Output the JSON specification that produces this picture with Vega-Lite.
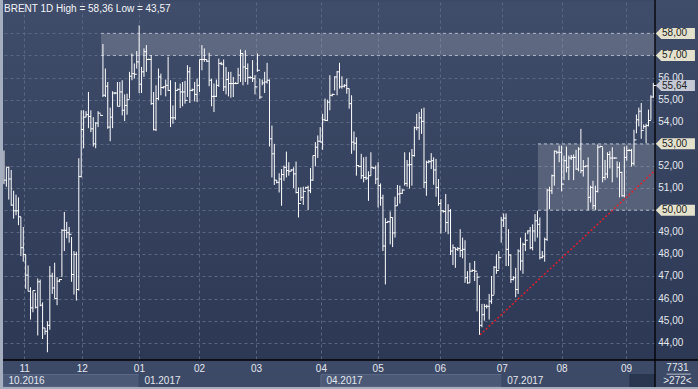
{
"$schema":"https://vega.github.io/schema/vega-lite/v6.json",
"width":652,"height":358,
"autosize":"none",
"padding":{"left":3,"top":2,"right":43,"bottom":29},
"background":"#3d4a67",
"config":{"view":{"stroke":null,"fill":{"gradient":"linear","x1":0,"y1":0,"x2":0,"y2":1,"stops":[{"offset":0,"color":"#404d6a"},{"offset":1,"color":"#2c3854"}]}},
"font":"Liberation Sans"},
"datasets":{
"bars":[
{"i":0,"h":52.70,"l":51.18,"c":51.36},{"i":1,"h":51.94,"l":51.06,"c":51.94},{"i":2,"h":51.97,"l":50.48,"c":51.41},{"i":3,"h":51.82,"l":50.20,"c":50.23},{"i":4,"h":50.88,"l":49.62,"c":49.97},{"i":5,"h":50.70,"l":49.77,"c":49.97},{"i":6,"h":50.58,"l":49.32,"c":49.70},{"i":7,"h":49.70,"l":47.92,"c":48.30},{"i":8,"h":49.24,"l":47.67,"c":48.00},{"i":9,"h":48.00,"l":46.44,"c":47.06},
{"i":10,"h":47.50,"l":46.33,"c":46.33},{"i":11,"h":46.51,"l":45.05,"c":45.58},{"i":12,"h":46.36,"l":45.38,"c":46.36},{"i":13,"h":46.26,"l":45.55,"c":45.61},{"i":14,"h":46.91,"l":44.33,"c":46.76},{"i":15,"h":46.86,"l":45.65,"c":45.70},{"i":16,"h":45.83,"l":44.17,"c":44.67},{"i":17,"h":44.67,"l":44.36,"c":44.52},{"i":18,"h":44.97,"l":43.57,"c":44.79},{"i":19,"h":47.47,"l":44.59,"c":47.02},
{"i":20,"h":47.17,"l":46.21,"c":46.48},{"i":21,"h":47.62,"l":46.00,"c":46.00},{"i":22,"h":46.97,"l":45.70,"c":46.79},{"i":23,"h":46.89,"l":46.74,"c":46.86},{"i":24,"h":49.14,"l":46.97,"c":49.09},{"i":25,"h":49.92,"l":48.15,"c":49.09},{"i":26,"h":49.47,"l":48.73,"c":48.98},{"i":27,"h":49.24,"l":48.53,"c":48.91},{"i":28,"h":48.79,"l":46.76,"c":47.09},{"i":29,"h":48.15,"l":46.18,"c":48.00},
{"i":30,"h":48.12,"l":45.91,"c":46.41},{"i":31,"h":52.35,"l":46.36,"c":51.52},{"i":32,"h":54.52,"l":51.48,"c":53.65},{"i":33,"h":54.52,"l":52.80,"c":54.21},{"i":34,"h":54.48,"l":54.21,"c":54.32},{"i":35,"h":55.35,"l":53.71,"c":54.24},{"i":36,"h":54.52,"l":53.53,"c":53.68},{"i":37,"h":54.21,"l":52.88,"c":53.00},{"i":38,"h":53.98,"l":52.80,"c":53.94},{"i":39,"h":54.48,"l":53.76,"c":54.39},
{"i":40,"h":54.33,"l":54.27,"c":54.29},{"i":41,"h":57.52,"l":55.12,"c":55.20},{"i":42,"h":56.41,"l":55.12,"c":55.61},{"i":43,"h":55.80,"l":53.68,"c":53.76},{"i":44,"h":54.64,"l":53.12,"c":54.21},{"i":45,"h":55.38,"l":53.71,"c":55.30},{"i":46,"h":55.35,"l":55.24,"c":55.30},{"i":47,"h":55.80,"l":54.70,"c":54.70},{"i":48,"h":55.80,"l":54.70,"c":55.35},{"i":49,"h":55.88,"l":54.29,"c":54.52},
{"i":50,"h":55.24,"l":54.03,"c":54.74},{"i":51,"h":55.27,"l":54.32,"c":55.00},{"i":52,"h":56.26,"l":55.05,"c":56.06},{"i":53,"h":57.09,"l":55.88,"c":56.18},{"i":54,"h":56.64,"l":55.95,"c":56.15},{"i":55,"h":57.20,"l":56.41,"c":56.71},{"i":56,"h":58.36,"l":55.30,"c":55.70},{"i":57,"h":56.48,"l":55.30,"c":56.26},{"i":58,"h":57.32,"l":56.03,"c":57.17},{"i":59,"h":57.47,"l":56.26,"c":56.82},
{"i":60,"h":56.86,"l":56.79,"c":56.82},{"i":61,"h":57.02,"l":54.77,"c":54.82},{"i":62,"h":55.35,"l":53.61,"c":53.64},{"i":63,"h":55.65,"l":53.58,"c":55.05},{"i":64,"h":56.41,"l":54.97,"c":56.03},{"i":65,"h":56.18,"l":55.20,"c":55.55},{"i":66,"h":55.61,"l":55.50,"c":55.58},{"i":67,"h":55.91,"l":55.15,"c":55.65},{"i":68,"h":56.94,"l":55.39,"c":55.42},{"i":69,"h":55.88,"l":53.76,"c":54.18},
{"i":70,"h":54.74,"l":53.91,"c":54.18},{"i":71,"h":55.80,"l":54.09,"c":55.42},{"i":72,"h":55.50,"l":55.42,"c":55.47},{"i":73,"h":55.73,"l":54.62,"c":55.35},{"i":74,"h":55.80,"l":54.70,"c":55.35},{"i":75,"h":55.85,"l":54.82,"c":54.97},{"i":76,"h":56.56,"l":55.12,"c":56.26},{"i":77,"h":56.48,"l":54.85,"c":55.42},{"i":78,"h":55.50,"l":55.38,"c":55.45},{"i":79,"h":55.80,"l":54.92,"c":55.24},
{"i":80,"h":55.95,"l":54.89,"c":55.65},{"i":81,"h":56.82,"l":55.35,"c":56.82},{"i":82,"h":57.47,"l":56.33,"c":56.82},{"i":83,"h":57.32,"l":56.71,"c":56.82},{"i":84,"h":56.82,"l":56.71,"c":56.74},{"i":85,"h":57.12,"l":55.61,"c":55.88},{"i":86,"h":55.95,"l":54.70,"c":55.15},{"i":87,"h":55.73,"l":54.44,"c":55.15},{"i":88,"h":55.91,"l":55.12,"c":55.65},{"i":89,"h":56.86,"l":55.58,"c":56.64},
{"i":90,"h":56.71,"l":56.56,"c":56.61},{"i":91,"h":56.82,"l":55.39,"c":55.58},{"i":92,"h":56.48,"l":55.24,"c":55.91},{"i":93,"h":56.26,"l":55.15,"c":55.73},{"i":94,"h":56.26,"l":55.09,"c":55.73},{"i":95,"h":56.03,"l":55.12,"c":55.73},{"i":96,"h":55.80,"l":55.70,"c":55.73},{"i":97,"h":56.44,"l":55.73,"c":56.11},{"i":98,"h":57.27,"l":55.80,"c":57.09},{"i":99,"h":57.09,"l":55.65,"c":56.48},
{"i":100,"h":57.24,"l":55.80,"c":56.41},{"i":101,"h":56.64,"l":55.68,"c":56.00},{"i":102,"h":56.06,"l":55.95,"c":56.00},{"i":103,"h":56.79,"l":55.80,"c":55.95},{"i":104,"h":56.11,"l":55.24,"c":55.58},{"i":105,"h":57.09,"l":56.26,"c":56.33},{"i":106,"h":55.95,"l":55.03,"c":55.12},{"i":107,"h":55.91,"l":55.65,"c":55.76},{"i":108,"h":56.26,"l":55.30,"c":55.80},{"i":109,"h":56.67,"l":55.73,"c":55.88},
{"i":110,"h":55.91,"l":52.88,"c":53.23},{"i":111,"h":53.83,"l":51.48,"c":52.55},{"i":112,"h":53.00,"l":51.14,"c":51.36},{"i":113,"h":51.36,"l":51.21,"c":51.26},{"i":114,"h":51.67,"l":50.80,"c":51.41},{"i":115,"h":51.86,"l":50.20,"c":51.61},{"i":116,"h":52.02,"l":51.33,"c":51.94},{"i":117,"h":52.65,"l":51.48,"c":51.79},{"i":118,"h":52.17,"l":51.56,"c":51.76},{"i":119,"h":51.86,"l":51.76,"c":51.82},
{"i":120,"h":51.94,"l":51.00,"c":51.64},{"i":121,"h":52.20,"l":50.76,"c":50.80},{"i":122,"h":51.03,"l":49.67,"c":50.30},{"i":123,"h":51.03,"l":50.42,"c":50.58},{"i":124,"h":51.06,"l":50.24,"c":50.85},{"i":125,"h":51.06,"l":50.95,"c":51.03},{"i":126,"h":51.11,"l":50.00,"c":50.88},{"i":127,"h":51.91,"l":50.77,"c":51.36},{"i":128,"h":52.47,"l":51.33,"c":52.47},{"i":129,"h":53.08,"l":51.98,"c":52.85},
{"i":130,"h":53.38,"l":52.36,"c":53.12},{"i":131,"h":53.76,"l":53.08,"c":53.08},{"i":132,"h":54.36,"l":52.73,"c":54.09},{"i":133,"h":55.05,"l":54.03,"c":54.06},{"i":134,"h":55.00,"l":54.03,"c":54.89},{"i":135,"h":56.11,"l":54.52,"c":55.20},{"i":136,"h":55.27,"l":55.15,"c":55.24},{"i":137,"h":56.06,"l":55.42,"c":56.03},{"i":138,"h":56.30,"l":55.20,"c":56.26},{"i":139,"h":56.67,"l":55.50,"c":55.58},
{"i":140,"h":56.06,"l":55.50,"c":55.61},{"i":141,"h":55.70,"l":55.55,"c":55.65},{"i":142,"h":55.95,"l":55.27,"c":55.50},{"i":143,"h":55.50,"l":54.59,"c":54.82},{"i":144,"h":55.20,"l":52.55,"c":53.08},{"i":145,"h":53.56,"l":52.70,"c":53.03},{"i":146,"h":53.30,"l":51.56,"c":52.02},{"i":147,"h":52.02,"l":51.94,"c":51.98},{"i":148,"h":52.55,"l":51.41,"c":51.56},{"i":149,"h":52.39,"l":51.26,"c":51.48},
{"i":150,"h":52.42,"l":51.36,"c":51.45},{"i":151,"h":51.76,"l":50.42,"c":51.56},{"i":152,"h":52.62,"l":51.56,"c":51.94},{"i":153,"h":51.94,"l":51.86,"c":51.91},{"i":154,"h":52.02,"l":51.18,"c":51.41},{"i":155,"h":52.17,"l":50.12,"c":51.11},{"i":156,"h":51.21,"l":50.20,"c":50.55},{"i":157,"h":50.70,"l":48.15,"c":48.38},{"i":158,"h":49.64,"l":46.64,"c":49.44},{"i":159,"h":49.52,"l":49.44,"c":49.48},
{"i":160,"h":49.94,"l":48.45,"c":49.67},{"i":161,"h":49.67,"l":48.33,"c":48.97},{"i":162,"h":50.61,"l":48.76,"c":50.20},{"i":163,"h":51.14,"l":50.20,"c":50.73},{"i":164,"h":51.11,"l":50.30,"c":50.76},{"i":165,"h":50.95,"l":50.73,"c":50.91},{"i":166,"h":52.62,"l":51.11,"c":51.21},{"i":167,"h":52.27,"l":51.06,"c":52.05},{"i":168,"h":52.62,"l":50.98,"c":52.06},{"i":169,"h":52.77,"l":51.11,"c":52.47},
{"i":170,"h":53.79,"l":52.42,"c":53.73},{"i":171,"h":54.36,"l":53.61,"c":53.73},{"i":172,"h":54.44,"l":53.18,"c":54.18},{"i":173,"h":54.59,"l":53.45,"c":54.02},{"i":174,"h":54.64,"l":51.00,"c":51.26},{"i":175,"h":52.24,"l":50.65,"c":52.17},{"i":176,"h":52.27,"l":52.12,"c":52.20},{"i":177,"h":52.58,"l":51.86,"c":52.24},{"i":178,"h":52.39,"l":51.15,"c":51.82},{"i":179,"h":52.32,"l":50.61,"c":51.03},
{"i":180,"h":51.41,"l":50.20,"c":50.30},{"i":181,"h":50.50,"l":48.94,"c":49.97},{"i":182,"h":50.00,"l":49.89,"c":49.94},{"i":183,"h":50.73,"l":49.02,"c":49.44},{"i":184,"h":50.27,"l":48.91,"c":49.97},{"i":185,"h":50.05,"l":47.97,"c":48.15},{"i":186,"h":48.45,"l":47.52,"c":48.30},{"i":187,"h":48.30,"l":47.39,"c":48.23},{"i":188,"h":48.33,"l":48.15,"c":48.26},{"i":189,"h":49.14,"l":47.88,"c":48.18},
{"i":190,"h":48.76,"l":47.82,"c":48.23},{"i":191,"h":48.64,"l":46.71,"c":46.94},{"i":192,"h":47.24,"l":46.67,"c":46.71},{"i":193,"h":47.62,"l":46.71,"c":47.24},{"i":194,"h":47.32,"l":47.21,"c":47.27},{"i":195,"h":47.70,"l":46.79,"c":47.24},{"i":196,"h":47.17,"l":45.42,"c":46.97},{"i":197,"h":46.61,"l":44.36,"c":44.79},{"i":198,"h":45.76,"l":44.70,"c":45.27},{"i":199,"h":45.76,"l":45.00,"c":45.65},
{"i":200,"h":45.73,"l":45.55,"c":45.65},{"i":201,"h":46.21,"l":45.05,"c":45.88},{"i":202,"h":47.02,"l":45.76,"c":46.15},{"i":203,"h":47.47,"l":46.18,"c":47.42},{"i":204,"h":48.00,"l":47.12,"c":47.27},{"i":205,"h":48.15,"l":47.32,"c":47.85},{"i":206,"h":49.70,"l":48.53,"c":49.55},{"i":207,"h":49.85,"l":49.24,"c":49.64},{"i":208,"h":49.85,"l":47.47,"c":48.23},{"i":209,"h":49.14,"l":47.47,"c":47.97},
{"i":210,"h":48.00,"l":46.71,"c":46.86},{"i":211,"h":47.02,"l":46.82,"c":46.94},{"i":212,"h":47.39,"l":46.06,"c":46.41},{"i":213,"h":48.23,"l":46.21,"c":48.15},{"i":214,"h":48.76,"l":47.27,"c":47.70},{"i":215,"h":48.53,"l":47.12,"c":48.45},{"i":216,"h":48.98,"l":48.15,"c":48.64},{"i":217,"h":49.09,"l":48.91,"c":49.06},{"i":218,"h":49.24,"l":48.23,"c":48.30},{"i":219,"h":49.36,"l":48.18,"c":49.06},
{"i":220,"h":49.82,"l":48.58,"c":49.52},{"i":221,"h":49.97,"l":48.76,"c":49.36},{"i":222,"h":49.67,"l":47.77,"c":47.85},{"i":223,"h":48.15,"l":47.82,"c":47.92},{"i":224,"h":48.76,"l":47.67,"c":48.68},{"i":225,"h":50.95,"l":48.61,"c":50.91},{"i":226,"h":51.06,"l":50.05,"c":50.88},{"i":227,"h":51.61,"l":50.73,"c":51.56},{"i":228,"h":52.70,"l":51.11,"c":52.67},{"i":229,"h":52.67,"l":52.55,"c":52.62},
{"i":230,"h":52.92,"l":52.17,"c":52.62},{"i":231,"h":52.92,"l":50.85,"c":51.18},{"i":232,"h":52.47,"l":51.36,"c":52.24},{"i":233,"h":52.88,"l":51.71,"c":51.94},{"i":234,"h":52.47,"l":51.36,"c":52.36},{"i":235,"h":52.50,"l":52.27,"c":52.39},{"i":236,"h":52.52,"l":51.36,"c":52.39},{"i":237,"h":52.73,"l":51.82,"c":51.86},{"i":238,"h":52.85,"l":51.76,"c":52.77},{"i":239,"h":53.68,"l":51.67,"c":51.79},
{"i":240,"h":52.27,"l":51.52,"c":51.97},{"i":241,"h":52.02,"l":51.94,"c":52.00},{"i":242,"h":52.39,"l":50.00,"c":50.58},{"i":243,"h":51.11,"l":50.35,"c":51.03},{"i":244,"h":51.33,"l":50.05,"c":50.20},{"i":245,"h":51.11,"l":50.00,"c":50.85},{"i":246,"h":52.97,"l":50.80,"c":52.85},{"i":247,"h":52.92,"l":52.85,"c":52.88},{"i":248,"h":52.85,"l":51.26,"c":51.48},{"i":249,"h":52.27,"l":51.36,"c":51.64},
{"i":250,"h":52.62,"l":51.45,"c":52.52},{"i":251,"h":52.67,"l":51.89,"c":52.36},{"i":252,"h":52.85,"l":51.26,"c":52.36},{"i":253,"h":52.39,"l":52.32,"c":52.36},{"i":254,"h":52.21,"l":51.48,"c":51.94},{"i":255,"h":52.17,"l":50.58,"c":51.71},{"i":256,"h":51.74,"l":50.61,"c":50.65},{"i":257,"h":52.88,"l":50.58,"c":52.39},{"i":258,"h":52.92,"l":52.24,"c":52.70},{"i":259,"h":52.77,"l":52.67,"c":52.70},
{"i":260,"h":52.77,"l":51.97,"c":52.12},{"i":261,"h":53.64,"l":52.02,"c":53.18},{"i":262,"h":54.33,"l":53.48,"c":54.09},{"i":263,"h":54.64,"l":53.79,"c":54.48},{"i":264,"h":54.85,"l":53.23,"c":53.61},{"i":265,"h":53.88,"l":53.68,"c":53.79},{"i":266,"h":53.91,"l":53.03,"c":53.83},{"i":267,"h":54.55,"l":53.79,"c":54.06},{"i":268,"h":55.20,"l":54.09,"c":55.12},{"i":269,"h":55.76,"l":55.09,"c":55.64}
],
"bands":[{"x1":40.2,"x2":269.7,"y1":57,"y2":58},{"x1":221.2,"x2":269.7,"y1":50,"y2":53}],
"edges":[{"x1":40.2,"x2":269.7,"y":58},{"x1":40.2,"x2":269.7,"y":57},{"x1":221.2,"x2":269.7,"y":53},{"x1":221.2,"x2":269.7,"y":50}],
"trend":[{"x1":197.2,"y1":44.36,"x2":269.7,"y2":51.8}],
"ylabels":[{"v":44,"t":"44,00"},{"v":45,"t":"45,00"},{"v":46,"t":"46,00"},{"v":47,"t":"47,00"},{"v":48,"t":"48,00"},{"v":49,"t":"49,00"},{"v":51,"t":"51,00"},{"v":52,"t":"52,00"},{"v":54,"t":"54,00"},{"v":55,"t":"55,00"},{"v":56,"t":"56,00"}],
"boxes":[{"v":58,"t":"58,00","k":"level"},{"v":57,"t":"57,00","k":"level"},{"v":53,"t":"53,00","k":"level"},{"v":50,"t":"50,00","k":"level"},{"v":55.64,"t":"55,64","k":"last"}],
"quarters":[{"x1":-0.4,"x2":55.9,"k":"a"},{"x1":55.9,"x2":131.3,"k":"b"},{"x1":131.3,"x2":206.2,"k":"a"},{"x1":206.2,"x2":259.3,"k":"b"},{"x1":259.3,"x2":269.7,"k":"c"}],
"frame":[{"x1":-1.7,"x2":-0.4,"y1":41.8,"y2":59.8},{"x1":-1.7,"x2":292,"y1":41.8,"y2":42.0}],
"black":[{"x1":-0.4,"x2":292,"y1":43.22,"y2":43.22},{"x1":269.7,"x2":269.7,"y1":42.0,"y2":59.8}]
},
"layer":[
{"data":{"values":[{"x1":269.7,"x2":292,"y1":43.22,"y2":59.8}]},
"mark":{"type":"rect","fill":{"gradient":"linear","x1":0,"y1":0,"x2":0,"y2":1,"stops":[{"offset":0,"color":"#404d6a"},{"offset":1,"color":"#2c3854"}]}},
"encoding":{"x":{"field":"x1","type":"quantitative","scale":{"domain":[-0.4,269.7],"nice":false,"zero":false},
"axis":{"orient":"bottom","values":[8.4,32.2,55.9,80.8,104.4,131.3,154.8,180.6,206.2,231.0,257.7],"grid":true,"gridDash":[3,3],"gridColor":"#5a6782","domain":false,"ticks":false,"labels":false,"title":null,"zindex":0}},
"x2":{"field":"x2"},
"y":{"field":"y1","type":"quantitative","scale":{"domain":[43.22,59.42],"nice":false,"zero":false},
"axis":{"orient":"right","values":[44,45,46,47,48,49,50,51,52,53,54,55,56,57,58],"grid":true,"gridDash":[3,3],"gridColor":"#5a6782","domain":false,"ticks":false,"labels":false,"title":null,"zindex":0}},
"y2":{"field":"y2"}}},
{"data":{"name":"bands"},"mark":{"type":"rect","fill":"#ffffff","fillOpacity":0.17},
"encoding":{"x":{"field":"x1","type":"quantitative","axis":null},"x2":{"field":"x2"},"y":{"field":"y1","type":"quantitative","axis":null},"y2":{"field":"y2"}}},
{"data":{"name":"edges"},"mark":{"type":"rule","color":"#aab2c3","strokeDash":[3,3],"strokeWidth":1},
"encoding":{"x":{"field":"x1","type":"quantitative","axis":null},"x2":{"field":"x2"},"y":{"field":"y","type":"quantitative","axis":null}}},
{"data":{"name":"quarters"},"mark":{"type":"rect","strokeWidth":1},
"encoding":{"x":{"field":"x1","type":"quantitative",
"axis":{"orient":"bottom","values":[-0.4,55.9,131.3,206.2],"labelExpr":"['10.2016','01.2017','04.2017','07.2017'][indexof([-0.4,55.9,131.3,206.2], datum.value)]","grid":false,"domain":false,"ticks":false,"labelPadding":15,"labelOffset":5,"labelAlign":"left","labelBaseline":"top","labelColor":"#e3e7ee","labelFont":"Liberation Sans","labelFontSize":10,"labelFlush":false,"labelOverlap":false,"labelBound":false,"title":null,"zindex":1}},
"x2":{"field":"x2"},"y":{"datum":42.0,"type":"quantitative","axis":null},"y2":{"datum":42.56},
"fill":{"field":"k","type":"nominal","scale":{"domain":["a","b","c"],"range":["#4b5977","#3d4a67","#2a3550"]},"legend":null},
"stroke":{"field":"k","type":"nominal","scale":{"domain":["a","b","c"],"range":["#5d6a86","#3d4a67","#2a3550"]},"legend":null}}},
{"data":{"name":"frame"},"mark":{"type":"rect","fill":"#a4aebf"},
"encoding":{"x":{"field":"x1","type":"quantitative","axis":null},"x2":{"field":"x2"},"y":{"field":"y1","type":"quantitative","axis":null},"y2":{"field":"y2"}}},
{"data":{"name":"black"},"mark":{"type":"rule","color":"#000000","strokeWidth":1.3},
"encoding":{"x":{"field":"x1","type":"quantitative","axis":null},"x2":{"field":"x2"},"y":{"field":"y1","type":"quantitative","axis":null},"y2":{"field":"y2"}}},
{"data":{"name":"trend"},"mark":{"type":"rule","color":"#e0202c","strokeDash":[2,2],"strokeWidth":1.5},
"encoding":{"x":{"field":"x1","type":"quantitative","axis":null},"y":{"field":"y1","type":"quantitative","axis":null},"x2":{"field":"x2"},"y2":{"field":"y2"}}},
{"data":{"name":"bars"},"mark":{"type":"rule","color":"#ffffff","strokeWidth":1},
"encoding":{"x":{"field":"i","type":"quantitative",
"axis":{"orient":"bottom","values":[8.4,32.2,55.9,80.8,104.4,131.3,154.8,180.6,206.2,231.0,257.7],"labelExpr":"['11','12','01','02','03','04','05','06','07','08','09'][indexof([8.4,32.2,55.9,80.8,104.4,131.3,154.8,180.6,206.2,231.0,257.7], datum.value)]","grid":false,"domain":false,"ticks":false,"labelPadding":3,"labelBaseline":"top","labelColor":"#e3e7ee","labelFont":"Liberation Sans","labelFontSize":10,"labelFlush":false,"labelOverlap":false,"labelBound":false,"title":null,"zindex":1}},
"y":{"field":"l","type":"quantitative","axis":null},"y2":{"field":"h"}}},
{"data":{"name":"bars"},"mark":{"type":"tick","orient":"horizontal","size":2.5,"thickness":1,"xOffset":1.25,"color":"#ffffff","opacity":1},
"encoding":{"x":{"field":"i","type":"quantitative","axis":null},"y":{"field":"c","type":"quantitative","axis":null}}},
{"data":{"name":"ylabels"},"mark":{"type":"text","align":"left","baseline":"middle","font":"Liberation Sans","fontSize":10,"color":"#e3e7ee"},
"encoding":{"x":{"datum":271.05,"type":"quantitative","axis":null},"y":{"field":"v","type":"quantitative","axis":null},"text":{"field":"t"}}},
{"data":{"name":"boxes"},"mark":{"type":"point","shape":"M0.5,-1L-0.5,0L0.5,1Z","size":121,"filled":true,"opacity":1},
"encoding":{"x":{"datum":271.15,"type":"quantitative","axis":null},"y":{"field":"v","type":"quantitative","axis":null},
"color":{"field":"k","type":"nominal","scale":{"domain":["level","last"],"range":["#e4e2cc","#c4c9d5"]},"legend":null}}},
{"data":{"name":"boxes"},"mark":{"type":"tick","orient":"horizontal","size":34,"thickness":11,"opacity":1},
"encoding":{"x":{"datum":279.2,"type":"quantitative","axis":null},"y":{"field":"v","type":"quantitative","axis":null},
"color":{"field":"k","type":"nominal","scale":{"domain":["level","last"],"range":["#e4e2cc","#c4c9d5"]},"legend":null}}},
{"data":{"name":"boxes"},"mark":{"type":"text","align":"left","baseline":"middle","font":"Liberation Sans","fontSize":10,"color":"#222222","dx":1},
"encoding":{"x":{"datum":272.2,"type":"quantitative","axis":null},"y":{"field":"v","type":"quantitative","axis":null},"text":{"field":"t"}}},
{"data":{"values":[{"t":"BRENT 1D High = 58,36 Low = 43,57"}]},"mark":{"type":"text","align":"left","baseline":"top","font":"Liberation Sans","fontSize":10,"color":"#f2f4f8","dx":1,"dy":2},
"encoding":{"x":{"datum":-0.4,"type":"quantitative","axis":null},"y":{"datum":59.42,"type":"quantitative","axis":null},"text":{"field":"t"}}},
{"data":{"values":[{"t":"7731","y":42.88},{"t":">272<","y":42.29}]},"mark":{"type":"text","align":"center","baseline":"middle","font":"Liberation Sans","fontSize":10,"color":"#e3e7ee"},
"encoding":{"x":{"datum":279.0,"type":"quantitative","axis":null},"y":{"field":"y","type":"quantitative","axis":null},"text":{"field":"t"}}},
{"data":{"values":[{"x1":274.5,"x2":284.5,"y":42.58}]},"mark":{"type":"rule","color":"#b8bfcb","strokeWidth":1},
"encoding":{"x":{"field":"x1","type":"quantitative","axis":null},"x2":{"field":"x2"},"y":{"field":"y","type":"quantitative","axis":null}}}
],
"resolve":{"axis":{"x":"independent","y":"independent"}}
}
